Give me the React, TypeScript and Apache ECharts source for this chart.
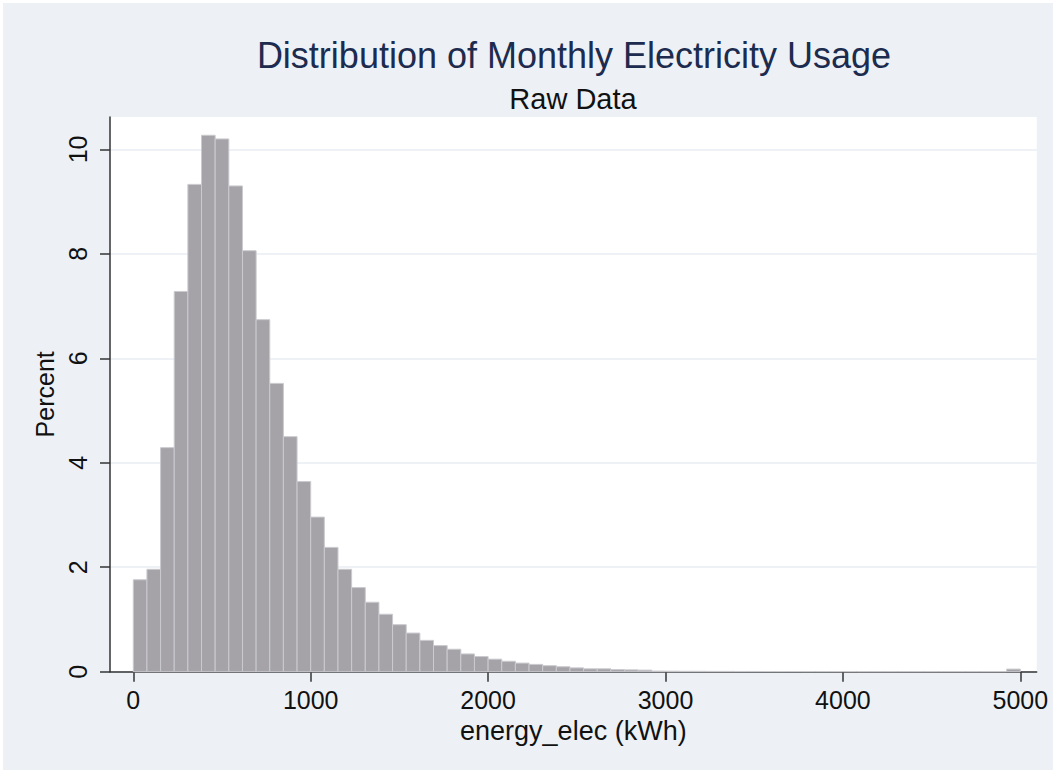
import React, { useEffect, useRef } from "react";
import * as echarts from "echarts";

const BIN_MIN = 0;
const BIN_MAX = 5000;
const BIN_COUNT = 65;

// Percent of observations in each of the 65 bins (0 .. 5000 kWh)
const percents = [
  1.76, 1.96, 4.29, 7.28, 9.33, 10.27, 10.2, 9.3, 8.06, 6.74,
  5.52, 4.5, 3.64, 2.96, 2.38, 1.96, 1.61, 1.33, 1.1, 0.9,
  0.74, 0.6, 0.5, 0.43, 0.34, 0.29, 0.24, 0.2, 0.165, 0.14,
  0.115, 0.095, 0.073, 0.055, 0.055, 0.04, 0.035, 0.03, 0.012, 0.01,
  0.008, 0.008, 0.006, 0.006, 0.005, 0.005, 0.004, 0.004, 0.004, 0.003,
  0.003, 0.003, 0.003, 0.002, 0.002, 0.002, 0.002, 0.002, 0.002, 0.002,
  0.002, 0.002, 0.002, 0.002, 0.05,
];

const xTicks = [0, 1000, 2000, 3000, 4000, 5000];
const yTicks = [0, 2, 4, 6, 8, 10];

const titleText = "Distribution of Monthly Electricity Usage";
const subtitleText = "Raw Data";
const xName = "energy_elec (kWh)";
const yName = "Percent";

const BG = "#edf1f6";
const FONT = "'Liberation Sans', Arial, sans-serif";

export default function App() {
  const ref = useRef<HTMLDivElement>(null);

  useEffect(() => {
    if (!ref.current) return;
    const chart = echarts.init(ref.current, null, { renderer: "svg" });
    const w = (BIN_MAX - BIN_MIN) / BIN_COUNT;
    const data = percents.map((p, i) => [BIN_MIN + i * w, BIN_MIN + (i + 1) * w, p]);

    chart.setOption({
      animation: false,
      backgroundColor: BG,
      textStyle: { fontFamily: FONT },
      title: [
        {
          text: titleText,
          left: 566,
          top: 29,
          textAlign: "center",
          textStyle: { fontFamily: FONT, fontSize: 36, fontWeight: "normal", color: "#1c2b4e" },
        },
        {
          text: subtitleText,
          left: 565,
          top: 76,
          textAlign: "center",
          textStyle: { fontFamily: FONT, fontSize: 29, fontWeight: "normal", color: "#111" },
        },
      ],
      grid: {
        left: 107,
        top: 114,
        width: 926.7,
        height: 554.7,
        show: true,
        backgroundColor: "#ffffff",
        borderWidth: 0,
      },
      xAxis: {
        type: "value",
        min: -131.3,
        max: 5092.4,
        name: xName,
        nameLocation: "middle",
        nameGap: 43,
        nameTextStyle: { fontFamily: FONT, fontSize: 27, color: "#111" },
        axisLine: { show: true, lineStyle: { color: "#333", width: 1.5 } },
        axisTick: { show: true, length: 10, customValues: xTicks, lineStyle: { color: "#333", width: 1.5 } },
        axisLabel: {
          customValues: xTicks,
          margin: 16,
          fontSize: 25,
          color: "#111",
          fontFamily: FONT,
          formatter: (v: number) => String(Math.round(v)),
        },
        splitLine: { show: false },
      },
      yAxis: {
        type: "value",
        min: 0,
        max: 10.62,
        name: yName,
        nameLocation: "middle",
        nameGap: 50,
        nameTextStyle: { fontFamily: FONT, fontSize: 25, color: "#111" },
        axisLine: { show: true, onZero: false, lineStyle: { color: "#333", width: 1.5 } },
        axisTick: { show: true, length: 10, customValues: yTicks, lineStyle: { color: "#333", width: 1.5 } },
        axisLabel: {
          customValues: yTicks,
          rotate: 90,
          margin: 20,
          fontSize: 25,
          color: "#111",
          fontFamily: FONT,
          formatter: (v: number) => String(Math.round(v)),
        },
        splitLine: { show: true, lineStyle: { color: "#e9eef4", width: 1.5 } },
      },
      series: [
        {
          type: "custom",
          data,
          renderItem: (params: any, api: any) => {
            const x0 = api.value(0);
            const x1 = api.value(1);
            const v = api.value(2);
            const p0 = api.coord([x0, v]);
            const p1 = api.coord([x1, 0]);
            return {
              type: "rect",
              shape: { x: p0[0], y: p0[1], width: p1[0] - p0[0], height: p1[1] - p0[1] },
              style: { fill: "#a5a3a8", stroke: "#cacacf", lineWidth: 1 },
            };
          },
        },
      ],
    });

    return () => chart.dispose();
  }, []);

  return (
    <div style={{ position: "absolute", left: 0, top: 0, width: 1059, height: 773, background: "#ffffff" }}>
      <div ref={ref} style={{ position: "absolute", left: 3, top: 3, width: 1050, height: 767 }} />
    </div>
  );
}
